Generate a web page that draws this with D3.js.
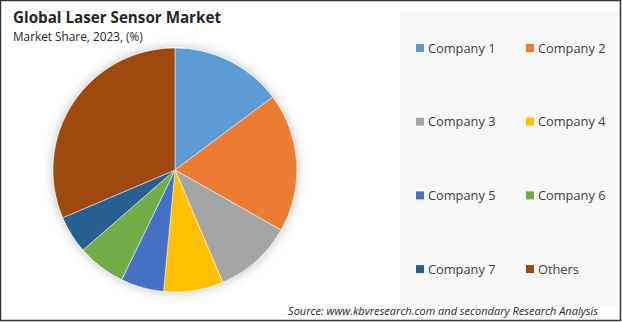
<!DOCTYPE html>
<html>
<head>
<meta charset="utf-8">
<script src="https://cdn.jsdelivr.net/npm/d3@7"></script>
<style>
  body { margin: 0; background: #fff; }
  svg { display: block; font-family: "Open Sans", Lato, sans-serif; }
</style>
</head>
<body>
<div id="chart"></div>
<script>
var companies = ["Company 1", "Company 2", "Company 3", "Company 4", "Company 5", "Company 6", "Company 7", "Others"];
var shares = [14.8, 18.4, 10.4, 7.9, 5.7, 6.4, 5.0, 31.4];
var colors = ["#5b9bd5", "#ed7d31", "#a5a5a5", "#ffc000", "#4472c4", "#70ad47", "#255e91", "#9e480e"];

var width = 622, height = 322;

var svg = d3.select("#chart").append("svg")
    .attr("width", width)
    .attr("height", height);

// outer frame
svg.append("rect")
    .attr("x", 0.5).attr("y", 0.5)
    .attr("width", width - 2).attr("height", height - 2)
    .attr("fill", "#fff")
    .attr("stroke", "#333").attr("stroke-width", 1.5);

// legend panel
svg.append("rect")
    .attr("x", 400).attr("y", 12)
    .attr("width", 219).attr("height", 294)
    .attr("fill", "#f8f8f8");

var defs = svg.append("defs");
var shadow = defs.append("filter").attr("id", "glow")
    .attr("x", "-20%").attr("y", "-20%").attr("width", "140%").attr("height", "140%");
shadow.append("feGaussianBlur").attr("in", "SourceAlpha").attr("stdDeviation", 6).attr("result", "b");
shadow.append("feComponentTransfer").attr("in", "b").attr("result", "b2")
    .append("feFuncA").attr("type", "linear").attr("slope", 0.25);
var merge = shadow.append("feMerge");
merge.append("feMergeNode").attr("in", "b2");
merge.append("feMergeNode").attr("in", "SourceGraphic");

// titles
svg.append("text")
    .attr("x", 13).attr("y", 23)
    .attr("font-size", 15.2).attr("font-weight", "bold")
    .attr("fill", "#262626")
    .text("Global Laser Sensor Market");

svg.append("text")
    .attr("x", 13).attr("y", 41)
    .attr("font-size", 11.8)
    .attr("fill", "#262626")
    .text("Market Share, 2023, (%)");

// pie
var radius = 122;
var pie = d3.pie().sort(null).value(function (d) { return d; });
var arc = d3.arc().innerRadius(0).outerRadius(radius);

var g = svg.append("g")
    .attr("transform", "translate(175,170)")
    .attr("filter", "url(#glow)");

g.selectAll("path")
    .data(pie(shares))
    .enter().append("path")
    .attr("d", arc)
    .attr("fill", function (d, i) { return colors[i]; })
    .attr("stroke", "#fff")
    .attr("stroke-width", 0.5);

// legend, two columns
var legend = svg.append("g").selectAll("g")
    .data(companies)
    .enter().append("g")
    .attr("transform", function (d, i) {
        var col = i % 2, row = Math.floor(i / 2);
        return "translate(" + (416 + col * 110) + "," + (48 + row * 73.7) + ")";
    });

legend.append("rect")
    .attr("x", 0).attr("y", -4)
    .attr("width", 8).attr("height", 8)
    .attr("fill", function (d, i) { return colors[i]; });

legend.append("text")
    .attr("x", 12).attr("y", 4.5)
    .attr("font-size", 12.8)
    .attr("fill", "#404040")
    .text(function (d) { return d; });

// source note
svg.append("text")
    .attr("x", 598).attr("y", 315)
    .attr("text-anchor", "end")
    .attr("font-size", 11)
    .attr("font-style", "italic")
    .attr("fill", "#262626")
    .text("Source: www.kbvresearch.com and secondary Research Analysis");
</script>
</body>
</html>
